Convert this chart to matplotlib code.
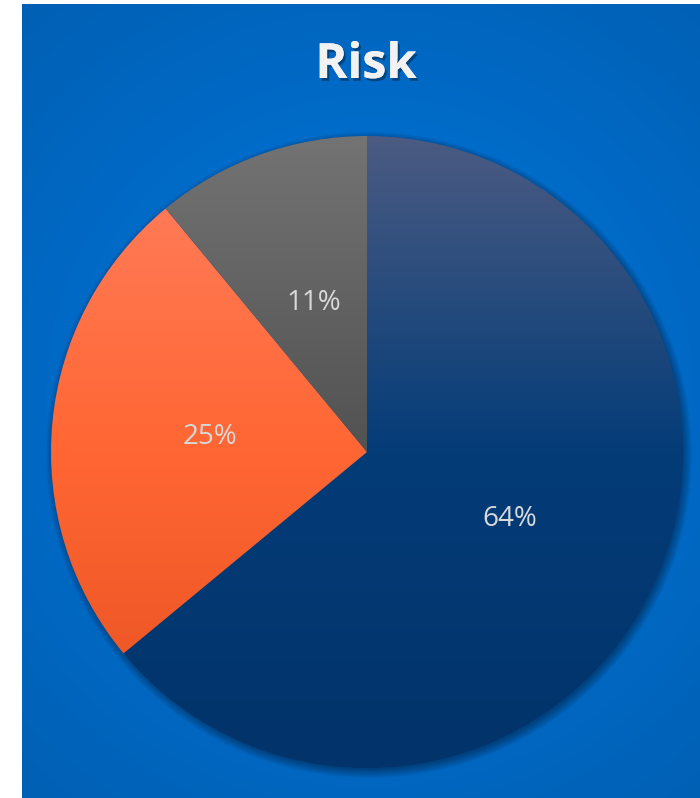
import matplotlib
matplotlib.use("Agg")
import matplotlib.pyplot as plt
import matplotlib.patheffects as pe
from matplotlib.colors import LinearSegmentedColormap
import numpy as np

# data
labels = ["High", "Medium", "Low"]
values = [64, 25, 11]
pct_labels = ["64%", "25%", "11%"]
# gradient stops per slice: bottom, middle, top
slice_colors = [
    ["#02336a", "#043c78", "#4b5b82"],
    ["#e65120", "#ff6633", "#ff8060"],
    ["#404040", "#525252", "#737373"],
]

W, H = 700, 798
fig = plt.figure(figsize=(W / 100, H / 100), dpi=100)
fig.patch.set_facecolor("white")
ax = fig.add_axes([0, 0, 1, 1])

# blue background with radial glow (pixel coords, y up)
x0, x1, y0, y1 = 22, 700, 0, 794
xx, yy = np.meshgrid(np.linspace(x0, x1, 300), np.linspace(y0, y1, 300))
d = np.sqrt((xx - 370) ** 2 + (yy - 400) ** 2) / 520
d = np.clip(d, 0, 1)
c_in = np.array([0, 120, 224]) / 255
c_out = np.array([0, 96, 180]) / 255
bg = c_in[None, None, :] * (1 - d[..., None]) + c_out[None, None, :] * d[..., None]
ax.imshow(bg, extent=(x0, x1, y0, y1), origin="lower", zorder=0, interpolation="bilinear")

cx, cy, r = 367, 346, 316

# soft shadow
for k in range(12):
    ax.add_patch(plt.Circle((cx + 2, cy - 3), r + 7 - k * 0.8, color="black",
                            alpha=0.03, lw=0, zorder=1))

wedges, _ = ax.pie(values, startangle=90, counterclock=False, center=(cx, cy),
                   radius=r, frame=True)

grad = np.linspace(0, 1, 256).reshape(-1, 1)
for w, cols in zip(wedges, slice_colors):
    w.set_facecolor("none")
    w.set_edgecolor("none")
    w.set_zorder(2)
    cmap = LinearSegmentedColormap.from_list("g", cols)
    im = ax.imshow(grad, cmap=cmap, extent=(cx - r, cx + r, cy - r, cy + r),
                   origin="lower", aspect="auto", zorder=2, interpolation="bilinear")
    im.set_clip_path(w)

ax.set_xlim(0, W)
ax.set_ylim(0, H)
ax.set_aspect("equal")
ax.axis("off")

# percentage labels
start = 90.0
total = sum(values)
for v, txt in zip(values, pct_labels):
    mid = np.deg2rad(start - v / total * 180)
    start -= v / total * 360
    ax.text(cx + 0.50 * r * np.cos(mid), cy + 0.50 * r * np.sin(mid), txt,
            ha="center", va="center", fontsize=20, color="#d9d9d9",
            family="Open Sans", zorder=5)

ax.text(366, H - 78, "Risk", ha="center", va="baseline", fontsize=35,
        fontweight="bold", color="#f2f2f2", family="Open Sans", zorder=5,
        path_effects=[pe.withSimplePatchShadow(offset=(1.5, -2), shadow_rgbFace="black",
                                               alpha=0.35), pe.Normal()])

fig.savefig("out.png", dpi=100)
